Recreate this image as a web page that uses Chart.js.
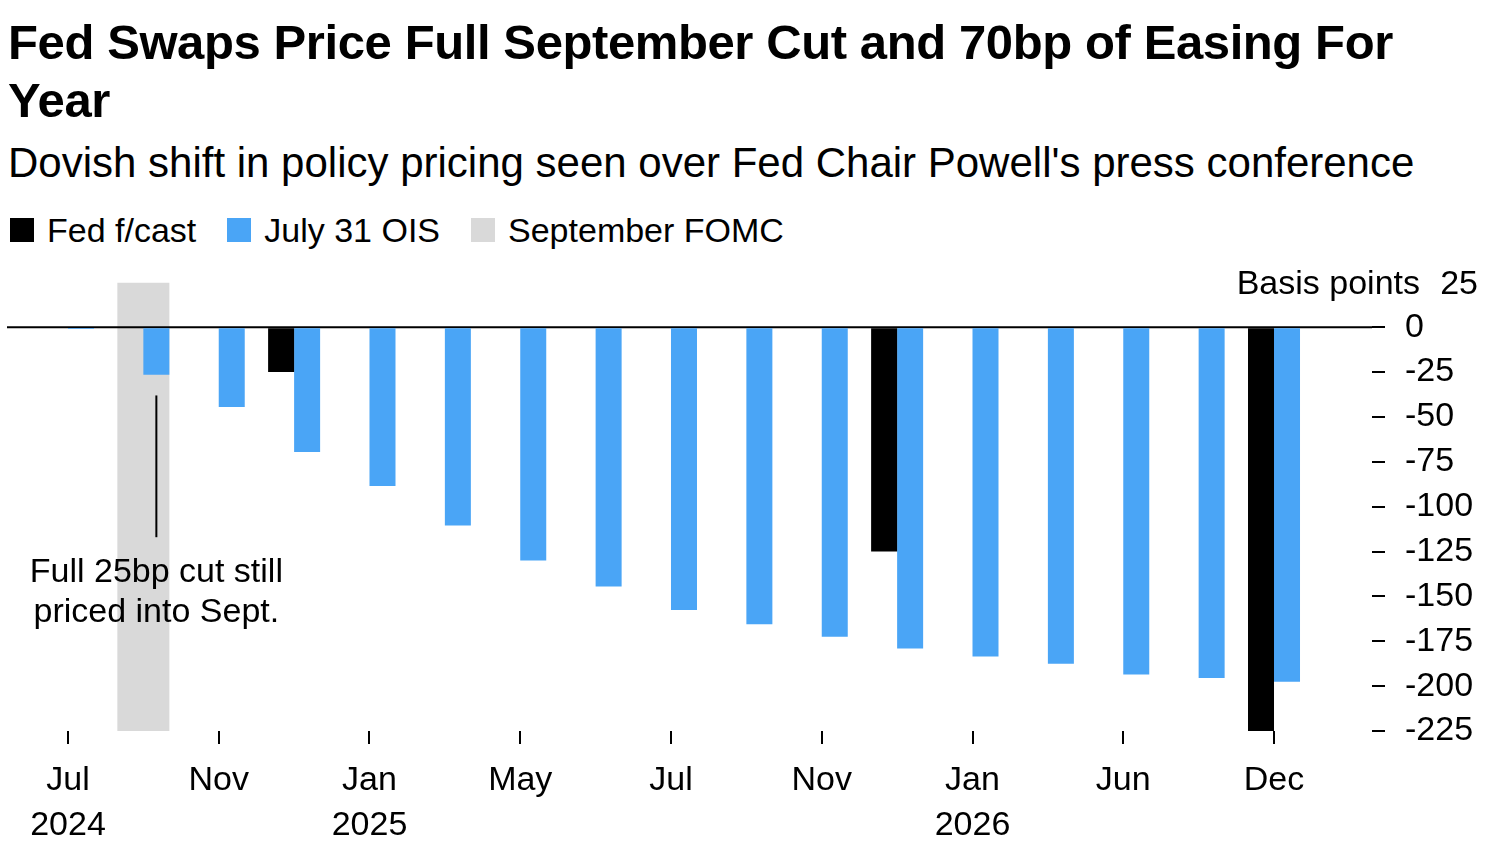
<!DOCTYPE html>
<html>
<head>
<meta charset="utf-8">
<script src="https://cdn.jsdelivr.net/npm/chart.js@4.4.1/dist/chart.umd.min.js"></script>
<style>
  html, body { margin: 0; padding: 0; background: #fff; }
  body { width: 1500px; height: 850px; position: relative; overflow: hidden;
         font-family: "Liberation Sans", Arial, Helvetica, sans-serif; color: #000; }
  #title { position: absolute; left: 8px; top: 13px; width: 1440px; font-size: 49px; font-weight: bold;
           line-height: 58px; letter-spacing: -0.4px; }
  #subtitle { position: absolute; left: 8px; top: 138px; font-size: 42px; line-height: 50px; white-space: nowrap; }
  #legend { position: absolute; left: 10px; top: 210px; height: 40px; display: flex; align-items: center;
            font-size: 34px; white-space: nowrap; }
  .item { display: flex; align-items: center; margin-right: 31px; }
  .sw { width: 24px; height: 24px; margin-right: 13px; }
  #wrap { position: absolute; left: 0; top: 242px; width: 1500px; height: 608px; }
</style>
</head>
<body>
<div id="title">Fed Swaps Price Full September Cut and 70bp of Easing For Year</div>
<div id="subtitle">Dovish shift in policy pricing seen over Fed Chair Powell's press conference</div>
<div id="legend"></div>
<div id="wrap"><canvas id="c" width="1500" height="608"></canvas></div>
<script>
// ---- data ----
const meetings = ['Jul 2024','Sep 2024','Nov 2024','Dec 2024','Jan 2025','Mar 2025','May 2025','Jun 2025',
                  'Jul 2025','Sep 2025','Oct 2025','Dec 2025','Jan 2026','Mar 2026','Jun 2026','Sep 2026','Dec 2026'];
const tickLabels = [['Jul','2024'], '', 'Nov', '', ['Jan','2025'], '', 'May', '', 'Jul', '', 'Nov', '',
                    ['Jan','2026'], '', 'Jun', '', 'Dec'];
const fedForecast = [null, null, null, -25, null, null, null, null, null, null, null, -125, null, null, null, null, -225];
const julyOIS = [-1, -26.5, -44.5, -69.5, -88.5, -110.5, -130, -144.5, -157.5, -165.5, -172.5, -179, -183.5, -187.5, -193.5, -195.5, -197.5];
const septemberFOMC = [null, [-225, 25], null, null, null, null, null, null, null, null, null, null, null, null, null, null, null];
const yTicks = [25, 0, -25, -50, -75, -100, -125, -150, -175, -200, -225];
const seriesNames = ['Fed f/cast', 'July 31 OIS', 'September FOMC'];
const seriesColors = ['#000000', '#4aa5f6', '#d9d9d9'];
const note = ['Full 25bp cut still', 'priced into Sept.'];

// ---- legend ----
const lg = document.getElementById('legend');
seriesNames.forEach((n, i) => {
  const it = document.createElement('div'); it.className = 'item';
  const sw = document.createElement('div'); sw.className = 'sw'; sw.style.background = seriesColors[i];
  const tx = document.createElement('span'); tx.textContent = n;
  it.appendChild(sw); it.appendChild(tx); lg.appendChild(it);
});

const toXY = arr => arr.map((v, i) => v === null ? null : { x: i, y: v }).filter(p => p !== null);
const FONT = '"Liberation Sans", Arial, Helvetica, sans-serif';

const extras = {
  id: 'extras',
  afterDatasetDraw(chart, args) {
    if (args.index !== 2) return;
    const ctx = chart.ctx, a = chart.chartArea, y0 = chart.scales.y.getPixelForValue(0);
    ctx.save();
    ctx.strokeStyle = '#000'; ctx.lineWidth = 2;
    ctx.beginPath(); ctx.moveTo(a.left, y0); ctx.lineTo(a.right, y0); ctx.stroke();
    ctx.restore();
  },
  afterDraw(chart) {
    const ctx = chart.ctx, ys = chart.scales.y;
    const bar = chart.getDatasetMeta(1).data[1];
    const x = bar.x;
    ctx.save();
    ctx.strokeStyle = '#000'; ctx.lineWidth = 2;
    ctx.beginPath(); ctx.moveTo(x, ys.getPixelForValue(-38)); ctx.lineTo(x, ys.getPixelForValue(-117)); ctx.stroke();
    ctx.fillStyle = '#000'; ctx.font = '34px ' + FONT; ctx.textAlign = 'center'; ctx.textBaseline = 'middle';
    ctx.fillText(note[0], x, ys.getPixelForValue(-136.5));
    ctx.fillText(note[1], x, ys.getPixelForValue(-159));
    const yTop = ys.getPixelForValue(25) + 2;
    ctx.textAlign = 'right';
    ctx.fillText(String(yTicks[0]), 1478, yTop);
    ctx.fillText('Basis points', 1420, yTop);
    ctx.restore();
  }
};

new Chart(document.getElementById('c'), {
  type: 'bar',
  data: {
    datasets: [
      { label: seriesNames[0], data: toXY(fedForecast), backgroundColor: seriesColors[0], order: 0,
        categoryPercentage: 0.69, barPercentage: 1.0 },
      { label: seriesNames[1], data: toXY(julyOIS), backgroundColor: seriesColors[1], order: 0,
        categoryPercentage: 0.69, barPercentage: 1.0 },
      { label: seriesNames[2], data: toXY(septemberFOMC), backgroundColor: seriesColors[2], order: 1,
        grouped: false, categoryPercentage: 0.69, barPercentage: 1.0 }
    ]
  },
  options: {
    responsive: false, animation: false,
    layout: { padding: { top: 7, left: 7, right: 0, bottom: 0 } },
    plugins: { legend: { display: false }, tooltip: { enabled: false } },
    scales: {
      x: {
        type: 'linear', min: -0.809, max: 17.30, offset: false,
        border: { display: false },
        grid: { offset: false, drawOnChartArea: false, drawTicks: true, tickLength: 13, tickColor: '#000', lineWidth: 2 },
        afterBuildTicks: s => { s.ticks = tickLabels.map((l, i) => l === '' ? null : { value: i }).filter(t => t); },
        afterFit: s => { s.height = 119; },
        ticks: { callback: v => tickLabels[v], color: '#000', font: { size: 34, family: FONT, lineHeight: 1.32 },
                 padding: 14, maxRotation: 0, autoSkip: false }
      },
      y: {
        position: 'right', min: -225, max: 25,
        border: { display: false },
        grid: { drawOnChartArea: false, drawTicks: true, tickLength: 13, lineWidth: 2,
                tickColor: c => (c.tick && c.tick.value === 25) ? 'rgba(0,0,0,0)' : '#000' },
        afterBuildTicks: s => { s.ticks = yTicks.slice().reverse().map(v => ({ value: v })); },
        afterFit: s => { s.width = 128; },
        ticks: { callback: v => v === yTicks[0] ? '' : String(v), color: '#000',
                 font: { size: 34, family: FONT }, padding: 20, autoSkip: false }
      }
    }
  },
  plugins: [extras]
});
</script>
</body>
</html>
